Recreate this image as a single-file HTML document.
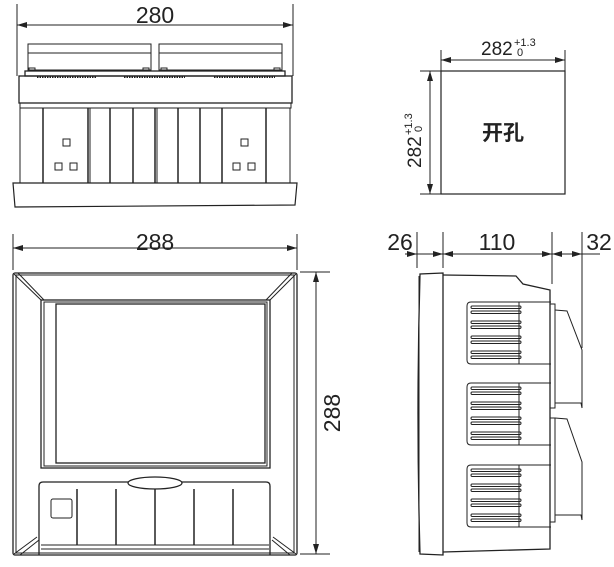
<!DOCTYPE html>
<html><head><meta charset="utf-8"><style>
html,body{margin:0;padding:0;background:#fff;}
svg{display:block;}
text{font-family:"Liberation Sans",Arial,sans-serif;fill:#222;}
</style></head><body>
<svg width="614" height="567" viewBox="0 0 614 567" xmlns="http://www.w3.org/2000/svg">
<defs>
<marker id="a" markerWidth="10" markerHeight="6" refX="10" refY="3" orient="auto" markerUnits="userSpaceOnUse"><path d="M0,0 L10,3 L0,6 Z" fill="#222"/></marker>
<marker id="b" markerWidth="10" markerHeight="6" refX="0" refY="3" orient="auto" markerUnits="userSpaceOnUse"><path d="M10,0 L0,3 L10,6 Z" fill="#222"/></marker>
</defs>
<g stroke="#222" fill="none" stroke-width="1">
<!-- TOP VIEW -->
<line x1="17" y1="4" x2="17" y2="76"/><line x1="293" y1="4" x2="293" y2="76"/>
<line x1="17" y1="25" x2="293" y2="25" marker-start="url(#b)" marker-end="url(#a)"/>
<rect x="28" y="44" width="123" height="26"/><line x1="28" y1="53" x2="151" y2="53"/>
<rect x="159" y="44" width="123" height="26"/><line x1="159" y1="53" x2="282" y2="53"/>
<rect x="29" y="68" width="6" height="3"/><rect x="143" y="68" width="6" height="3"/>
<rect x="161" y="68" width="6" height="3"/><rect x="274" y="68" width="6" height="3"/>
<rect x="25" y="71" width="260" height="5" stroke-width="1.3"/>
<line x1="37" y1="77" x2="97" y2="77" stroke-dasharray="1.5 1" stroke-width="2"/>
<line x1="124" y1="77" x2="185" y2="77" stroke-dasharray="1.5 1" stroke-width="2"/>
<line x1="214" y1="77" x2="275" y2="77" stroke-dasharray="1.5 1" stroke-width="2"/>
<rect x="19" y="76" width="273" height="27" stroke-width="1.3"/>
<rect x="20" y="103" width="271" height="5"/>
<rect x="20" y="108" width="270" height="75"/>
<g stroke-width="1.5">
<line x1="43" y1="108" x2="43" y2="183"/><line x1="88" y1="108" x2="88" y2="183"/>
<line x1="110" y1="108" x2="110" y2="183"/><line x1="133" y1="108" x2="133" y2="183"/>
<line x1="155" y1="108" x2="155" y2="183"/><line x1="178" y1="108" x2="178" y2="183"/>
<line x1="200" y1="108" x2="200" y2="183"/><line x1="222" y1="108" x2="222" y2="183"/>
<line x1="266" y1="108" x2="266" y2="183"/>
</g>
<line x1="90" y1="108" x2="90" y2="183"/><line x1="157" y1="108" x2="157" y2="183"/>
<rect x="63" y="139" width="7" height="7"/><rect x="55" y="163" width="7" height="7"/><rect x="70" y="163" width="7" height="7"/>
<rect x="241" y="139" width="7" height="7"/><rect x="233" y="163" width="7" height="7"/><rect x="248" y="163" width="7" height="7"/>
<path d="M13,183 L297,183 L295,205 L15,207 Z" stroke-width="1.2"/>

<!-- CUTOUT -->
<line x1="441" y1="50" x2="441" y2="71"/><line x1="565" y1="50" x2="565" y2="71"/>
<line x1="441" y1="60" x2="565" y2="60" marker-start="url(#b)" marker-end="url(#a)"/>
<line x1="420" y1="71" x2="441" y2="71"/><line x1="420" y1="194" x2="441" y2="194"/>
<line x1="430" y1="71" x2="430" y2="194" marker-start="url(#b)" marker-end="url(#a)"/>
<rect x="441" y="71" width="124" height="123" stroke-width="1.2"/>

<!-- FRONT VIEW -->
<line x1="13" y1="234" x2="13" y2="270"/><line x1="297" y1="234" x2="297" y2="270"/>
<line x1="13" y1="248" x2="297" y2="248" marker-start="url(#b)" marker-end="url(#a)"/>
<line x1="300" y1="272" x2="330" y2="272"/><line x1="300" y1="554" x2="330" y2="554"/>
<line x1="316" y1="272" x2="316" y2="554" marker-start="url(#b)" marker-end="url(#a)"/>
<rect x="13" y="273" width="284" height="282" rx="2" stroke-width="1.3"/>
<rect x="16" y="275" width="278" height="278"/>
<rect x="41" y="300" width="229" height="168" stroke-width="1.3"/>
<rect x="44" y="302" width="223" height="164"/>
<rect x="56" y="304" width="209" height="159" stroke-width="1.3"/>
<line x1="14" y1="274" x2="41" y2="300"/><line x1="18" y1="273" x2="44" y2="300"/>
<line x1="296" y1="274" x2="270" y2="300"/><line x1="292" y1="273" x2="266" y2="300"/>
<line x1="14" y1="554" x2="37" y2="537"/><line x1="20" y1="555" x2="39" y2="540"/>
<line x1="296" y1="554" x2="273" y2="537"/><line x1="290" y1="555" x2="272" y2="540"/>
<path d="M39,555 L39,486 Q39,482 43,482 L266,482 Q270,482 270,486 L270,555" stroke-width="1.3"/>
<line x1="41" y1="545" x2="269" y2="545"/><line x1="41" y1="549" x2="269" y2="549"/>
<ellipse cx="155" cy="483" rx="27" ry="6" fill="#fff" stroke-width="1.2"/>
<g stroke-width="1.5">
<line x1="77" y1="489" x2="77" y2="545"/><line x1="116" y1="489" x2="116" y2="545"/>
<line x1="155" y1="489" x2="155" y2="545"/><line x1="194" y1="489" x2="194" y2="545"/>
<line x1="233" y1="489" x2="233" y2="545"/>
</g>
<rect x="51" y="499" width="21" height="19" rx="2"/>

<!-- SIDE VIEW -->
<line x1="417" y1="232" x2="417" y2="268"/><line x1="443" y1="232" x2="443" y2="268"/>
<line x1="552" y1="232" x2="552" y2="284"/><line x1="582" y1="232" x2="582" y2="348"/>
<line x1="405" y1="254" x2="417" y2="254" marker-end="url(#a)"/>
<line x1="417" y1="254" x2="443" y2="254" marker-end="url(#a)"/>
<line x1="443" y1="254" x2="552" y2="254" marker-start="url(#b)" marker-end="url(#a)"/>
<line x1="552" y1="254" x2="582" y2="254" marker-start="url(#b)" marker-end="url(#a)"/>
<line x1="582" y1="254" x2="600" y2="254"/>
<path d="M443,273 L420,274 Q416,414 420,554 L443,555 Z" stroke-width="1.3"/>
<line x1="419" y1="276" x2="419" y2="552"/>
<path d="M443,275 L516,276 L523,284 L550,290 L550,549 L443,552" stroke-width="1.3"/>
<g id="v">
<path d="M551,302 L471,302 Q467,302 467,306 L467,360 Q467,364 471,364 L551,364" stroke-width="1"/>
<line x1="519" y1="302" x2="519" y2="364"/>
<rect x="471" y="306" width="50" height="2.5" rx="1.2"/><rect x="471" y="311" width="50" height="2.5" rx="1.2"/>
<rect x="471" y="321" width="50" height="2.5" rx="1.2"/><rect x="471" y="326" width="50" height="2.5" rx="1.2"/>
<rect x="471" y="336" width="50" height="2.5" rx="1.2"/><rect x="471" y="341" width="50" height="2.5" rx="1.2"/>
<rect x="471" y="351" width="50" height="2.5" rx="1.2"/><rect x="471" y="356" width="50" height="2.5" rx="1.2"/>
</g>
<use href="#v" y="81"/>
<use href="#v" y="163"/>
<rect x="550" y="304" width="5" height="104"/>
<rect x="550" y="418" width="5" height="104"/>
<path d="M555,310 L567,311 L582,350 L582,408 M555,403 L581,403 L582,408" />
<path d="M555,418 L567,419 L582,462 L582,520 M555,515 L581,515 L582,520" />
</g>
<text x="155" y="23" font-size="23" text-anchor="middle">280</text>
<text x="155" y="250" font-size="23" text-anchor="middle">288</text>
<text x="340" y="413" font-size="23" text-anchor="middle" transform="rotate(-90 340 413)">288</text>
<text x="400" y="250" font-size="23" text-anchor="middle">26</text>
<text x="497" y="250" font-size="23" text-anchor="middle">110</text>
<text x="599" y="250" font-size="23" text-anchor="middle">32</text>
<text x="481" y="55" font-size="19">282</text>
<text x="514" y="46" font-size="11">+1.3</text>
<text x="517" y="56" font-size="11">0</text>
<g transform="rotate(-90 428 133)">
<text x="393" y="126" font-size="19">282</text>
<text x="426" y="117" font-size="11">+1.3</text>
<text x="429" y="127" font-size="11">0</text>
</g>
<text x="503" y="140" font-size="21" font-weight="bold" text-anchor="middle" style="font-family:'Noto Sans CJK SC',sans-serif">开孔</text>
</svg>
</body></html>
